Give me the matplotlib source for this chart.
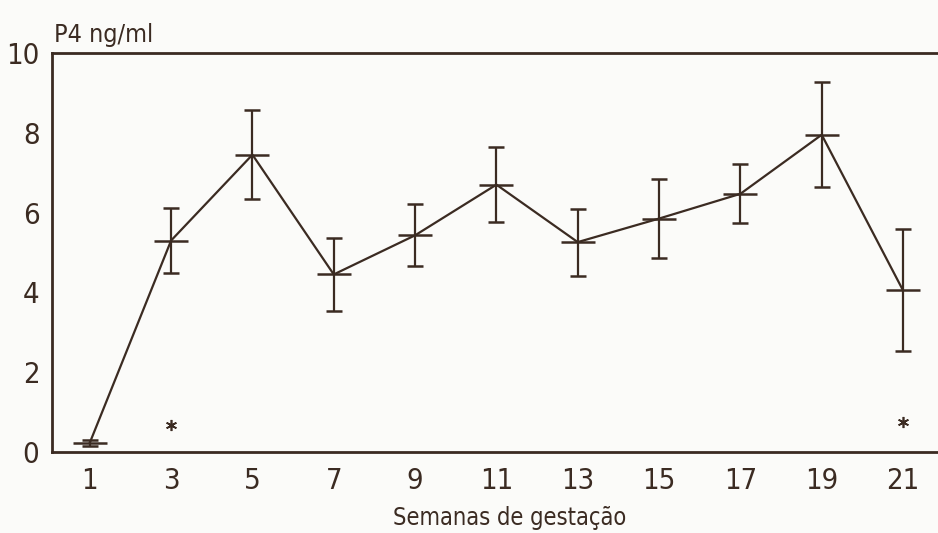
import matplotlib
matplotlib.use("Agg")
import matplotlib.pyplot as plt
from matplotlib import font_manager
import numpy as np

weeks = [1, 3, 5, 7, 9, 11, 13, 15, 17, 19, 21]
p4_mean = [0.23, 5.3, 7.45, 4.45, 5.43, 6.7, 5.26, 5.85, 6.47, 7.95, 4.05]
p4_err = [0.08, 0.82, 1.12, 0.92, 0.78, 0.94, 0.84, 1.0, 0.74, 1.32, 1.53]
sig_weeks = [3, 21]
sig_y = [0.68, 0.75]
xticks = [1, 3, 5, 7, 9, 11, 13, 15, 17, 19, 21]
yticks = [0, 2, 4, 6, 8, 10]

ink = "#3b2b22"
bg = "#fbfbf9"
fp = dict(family="DejaVu Sans", stretch="condensed")

fig = plt.figure(figsize=(9.38, 5.33), dpi=100, facecolor=bg)
ax = fig.add_axes([0.0554, 0.152, 0.9446, 0.7486], facecolor=bg)

ax.errorbar(weeks, p4_mean, yerr=p4_err, color=ink, lw=1.6, elinewidth=1.6,
            capsize=6, capthick=1.6, marker="_", markersize=24, mew=1.8)
ax.plot(sig_weeks, sig_y, linestyle="none", marker=(6, 2, 0), markersize=8,
        color=ink, mew=1.2)

ax.set_xlim(0.07, 21.86)
ax.set_ylim(0, 10)
ax.set_xticks(xticks)
ax.set_yticks(yticks)
ax.tick_params(length=0, colors=ink)
ax.tick_params(axis="y", pad=9)
ax.tick_params(axis="x", pad=11)
for lab in ax.get_xticklabels() + ax.get_yticklabels():
    lab.set_fontproperties(font_manager.FontProperties(size=21, **fp))

for s in ["left", "top", "bottom"]:
    ax.spines[s].set_color(ink)
    ax.spines[s].set_linewidth(2)
ax.spines["right"].set_visible(False)

fig.text(0.058, 0.935, "P4 ng/ml", fontsize=18, color=ink, ha="left", va="center", **fp)
fig.text(0.543, 0.028, "Semanas de gestação", fontsize=17, color=ink, ha="center", va="center", **fp)

fig.savefig("out.png", dpi=100, facecolor=bg)
